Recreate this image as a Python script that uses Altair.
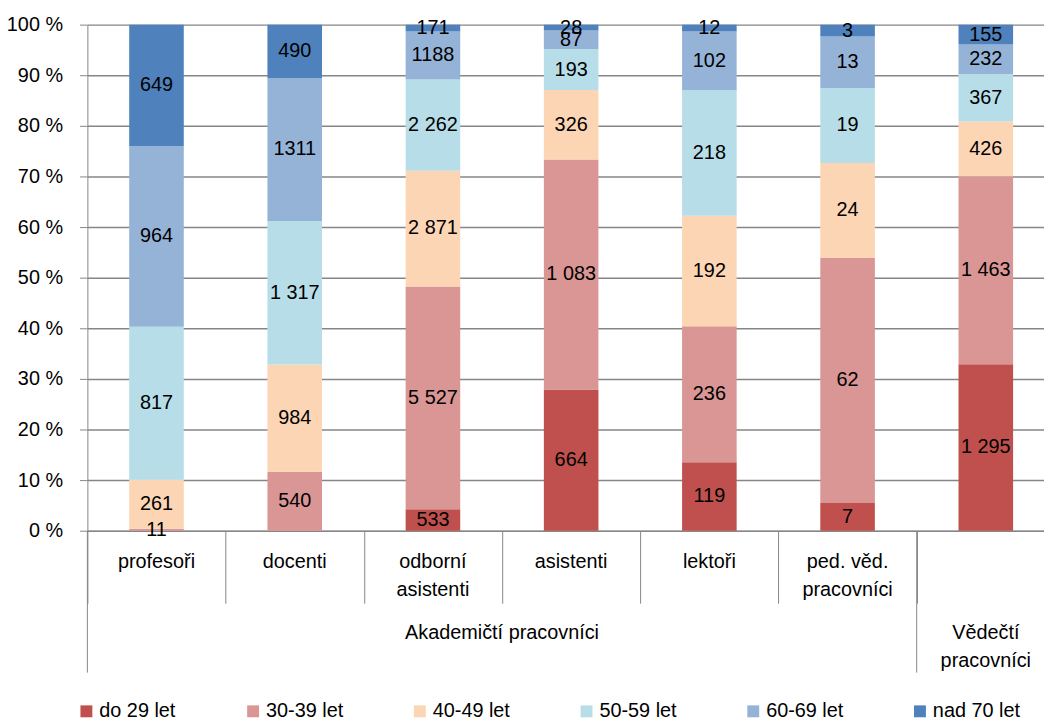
import altair as alt
import pandas as pd

FONT = "Liberation Sans, Arial, sans-serif"
FS = 20
GRAY = "#868686"

categories = ["profesoři", "docenti", "odborní asistenti", "asistenti", "lektoři",
              "ped. věd. pracovníci", "Vědečtí pracovníci"]
cat_labels = ["profesoři", "docenti", "odborní\nasistenti", "asistenti", "lektoři",
              "ped. věd.\npracovníci", ""]
groups = ["Akademičtí pracovníci", "Vědečtí pracovníci"]
group_labels = ["Akademičtí pracovníci", "Vědečtí\npracovníci"]

ages = ["do 29 let", "30-39 let", "40-49 let", "50-59 let", "60-69 let", "nad 70 let"]
colors = ["#C0504D", "#D99694", "#FCD5B5", "#B7DEE8", "#95B3D7", "#4F81BD"]

v_do29 = [0, 0, 533, 664, 119, 7, 1295]
v_30 = [11, 540, 5527, 1083, 236, 62, 1463]
v_40 = [261, 984, 2871, 326, 192, 24, 426]
v_50 = [817, 1317, 2262, 193, 218, 19, 367]
v_60 = [964, 1311, 1188, 87, 102, 13, 232]
v_70 = [649, 490, 171, 28, 12, 3, 155]

l_do29 = ["", "", "533", "664", "119", "7", "1 295"]
l_30 = ["11", "540", "5 527", "1 083", "236", "62", "1 463"]
l_40 = ["261", "984", "2 871", "326", "192", "24", "426"]
l_50 = ["817", "1 317", "2 262", "193", "218", "19", "367"]
l_60 = ["964", "1311", "1188", "87", "102", "13", "232"]
l_70 = ["649", "490", "171", "28", "12", "3", "155"]

series_vals = [v_do29, v_30, v_40, v_50, v_60, v_70]
series_labs = [l_do29, l_30, l_40, l_50, l_60, l_70]

rows = []
for ai, (age, vals, labs) in enumerate(zip(ages, series_vals, series_labs)):
    for ci, cat in enumerate(categories):
        rows.append({"cat": cat, "age": age, "order": ai, "value": vals[ci], "label": labs[ci]})
df = pd.DataFrame(rows)

df_cats = pd.DataFrame({"cat": categories, "lab": cat_labels})
df_sep = pd.DataFrame({"cat": [categories[0], categories[6]]})
df_g1 = pd.DataFrame({"cat": [categories[3]], "lab": [group_labels[0]]})
df_g2 = pd.DataFrame({"cat": [categories[6]], "lab": [group_labels[1]]})

W, H = 964, 510
xscale = alt.Scale(domain=categories, range=[0, 975], paddingInner=0, paddingOuter=0)
yscale = alt.Scale(domain=[0, 1])

xaxis = alt.Axis(labels=False, ticks=True, tickBand="extent", tickSize=73, tickColor=GRAY,
                 tickWidth=1, domainColor=GRAY, domainWidth=1, grid=False, title=None)
yaxis = alt.Axis(values=[0, 0.1, 0.2, 0.3, 0.4, 0.5, 0.6, 0.7, 0.8, 0.9, 1.0],
                 labelExpr="round(datum.value*100) + ' %'", labelFont=FONT, labelFontSize=FS,
                 labelColor="black", labelPadding=17, tickSize=8, tickColor=GRAY, tickWidth=1,
                 domainColor=GRAY, domainWidth=1, grid=True, gridColor=GRAY, gridWidth=1.5,
                 title=None)

base = alt.Chart(df).transform_stack(
    stack="value", groupby=["cat"], as_=["y0", "y1"],
    sort=[alt.SortField("order", order="ascending")], offset="normalize"
).transform_calculate(mid="(datum.y0 + datum.y1) / 2")

bars = base.mark_bar(width=55).encode(
    x=alt.X("cat:N", scale=xscale, axis=xaxis, title=None),
    y=alt.Y("y0:Q", scale=yscale, axis=yaxis, title=None),
    y2="y1:Q",
    color=alt.Color("age:N", scale=alt.Scale(domain=ages, range=colors), title=None,
                    legend=alt.Legend(orient="none", legendX=-11, legendY=682,
                                      direction="horizontal", columns=6, gridAlign="all",
                                      columnPadding=57, symbolType="square", symbolSize=144,
                                      symbolStrokeWidth=0, labelFont=FONT, labelFontSize=FS,
                                      labelColor="black", labelOffset=3)),
)

texts = base.transform_filter("datum.value > 0").mark_text(
    font=FONT, fontSize=FS, color="black"
).encode(
    x=alt.X("cat:N", scale=xscale, title=None),
    y=alt.Y("mid:Q", scale=yscale, title=None),
    text="label:N",
)

cat_text = alt.Chart(df_cats).mark_text(
    font=FONT, fontSize=FS, color="black", baseline="top", lineBreak="\n", lineHeight=28
).encode(
    x=alt.X("cat:N", scale=xscale, title=None),
    y=alt.value(H + 22),
    text="lab:N",
)

seps = alt.Chart(df_sep).mark_rule(color=GRAY, strokeWidth=1).encode(
    x=alt.X("cat:N", scale=xscale, bandPosition=0, title=None),
    y=alt.value(H),
    y2=alt.value(H + 143),
)

g1 = alt.Chart(df_g1).mark_text(
    font=FONT, fontSize=FS, color="black", baseline="top", lineBreak="\n", lineHeight=28
).encode(
    x=alt.X("cat:N", scale=xscale, bandPosition=0, title=None),
    y=alt.value(H + 93),
    text="lab:N",
)

g2 = alt.Chart(df_g2).mark_text(
    font=FONT, fontSize=FS, color="black", baseline="top", lineBreak="\n", lineHeight=28
).encode(
    x=alt.X("cat:N", scale=xscale, title=None),
    y=alt.value(H + 93),
    text="lab:N",
)

chart = alt.layer(bars, texts, cat_text, seps, g1, g2).properties(
    width=W, height=H,
    autosize=alt.AutoSizeParams(type="none"),
    padding={"left": 80, "top": 14, "right": 0, "bottom": 190},
).configure_view(strokeWidth=0)

chart.save("out.html", embed_options={"renderer": "svg", "actions": False})
